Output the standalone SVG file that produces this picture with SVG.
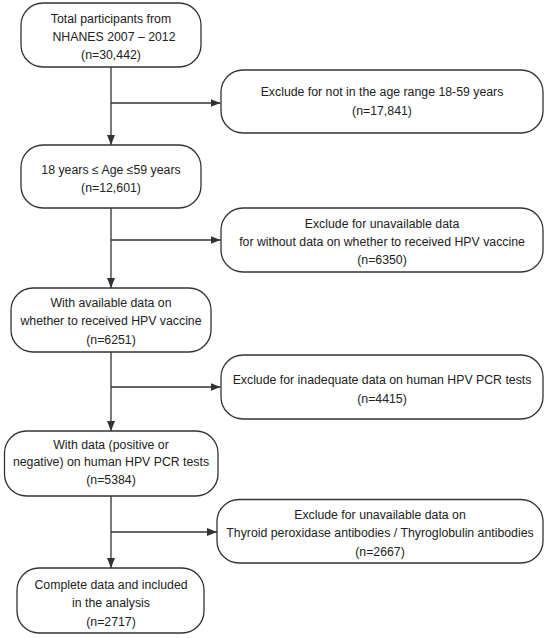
<svg xmlns="http://www.w3.org/2000/svg" width="550" height="638" viewBox="0 0 550 638">
<defs>
<style>
.box{fill:#fff;stroke:#333;stroke-width:1.3}
.t{font-family:"Liberation Sans",Arial,sans-serif;font-size:12.3px;fill:#222;text-anchor:middle}
.c{stroke:#333;stroke-width:1.3;fill:none}
</style>
<marker id="ah" markerWidth="10" markerHeight="8" refX="10" refY="4" orient="auto" markerUnits="userSpaceOnUse">
<path d="M0,0 L10,4 L0,8 Z" fill="#333"/>
</marker>
</defs>
<rect width="550" height="638" fill="#fff"/>
<g id="connectors">
<line class="c" x1="111" y1="67" x2="111" y2="145" marker-end="url(#ah)"/>
<line class="c" x1="111" y1="103" x2="220.5" y2="103" marker-end="url(#ah)"/>
<line class="c" x1="111" y1="208" x2="111" y2="288" marker-end="url(#ah)"/>
<line class="c" x1="111" y1="240" x2="220.5" y2="240" marker-end="url(#ah)"/>
<line class="c" x1="111" y1="352" x2="111" y2="431" marker-end="url(#ah)"/>
<line class="c" x1="111" y1="387" x2="220.5" y2="387" marker-end="url(#ah)"/>
<line class="c" x1="111" y1="496" x2="111" y2="568" marker-end="url(#ah)"/>
<line class="c" x1="111" y1="532" x2="217" y2="532" marker-end="url(#ah)"/>
</g>
<g id="n1">
<rect class="box" x="21" y="3" width="180" height="64" rx="22" ry="22"/>
<text class="t" x="111" y="23">Total participants from</text>
<text class="t" x="114" y="40.5">NHANES 2007 – 2012</text>
<text class="t" x="111" y="58.5">(n=30,442)</text>
</g>
<g id="e1">
<rect class="box" x="221" y="70" width="322" height="63" rx="22" ry="22"/>
<text class="t" x="382" y="95.5">Exclude for not in the age range 18-59 years</text>
<text class="t" x="382" y="114.5">(n=17,841)</text>
</g>
<g id="n2">
<rect class="box" x="21" y="145" width="180" height="63" rx="22" ry="22"/>
<text class="t" x="111" y="173.5">18 years ≤ Age ≤59 years</text>
<text class="t" x="111" y="191.5">(n=12,601)</text>
</g>
<g id="e2">
<rect class="box" x="221" y="208" width="322" height="64" rx="22" ry="22"/>
<text class="t" x="382" y="227.5">Exclude for unavailable data</text>
<text class="t" x="382" y="245.5">for without data on whether to received HPV vaccine</text>
<text class="t" x="382" y="264">(n=6350)</text>
</g>
<g id="n3">
<rect class="box" x="11" y="288" width="200" height="64" rx="22" ry="22"/>
<text class="t" x="111" y="306.5">With available data on</text>
<text class="t" x="111" y="325">whether to received HPV vaccine</text>
<text class="t" x="111" y="343.5">(n=6251)</text>
</g>
<g id="e3">
<rect class="box" x="221" y="355" width="322" height="64" rx="22" ry="22"/>
<text class="t" x="382" y="383.5">Exclude for inadequate data on human HPV PCR tests</text>
<text class="t" x="382" y="403">(n=4415)</text>
</g>
<g id="n4">
<rect class="box" x="4.5" y="431" width="213.5" height="65" rx="22" ry="22"/>
<text class="t" x="111" y="448.5">With data (positive or</text>
<text class="t" x="111" y="466">negative) on human HPV PCR tests</text>
<text class="t" x="111" y="484">(n=5384)</text>
</g>
<g id="e4">
<rect class="box" x="217" y="499.5" width="326" height="63.5" rx="22" ry="22"/>
<text class="t" x="380" y="518.5">Exclude for unavailable data on</text>
<text class="t" x="380" y="537">Thyroid peroxidase antibodies / Thyroglobulin antibodies</text>
<text class="t" x="380" y="555.5">(n=2667)</text>
</g>
<g id="n5">
<rect class="box" x="17" y="568" width="187" height="65" rx="22" ry="22"/>
<text class="t" x="111" y="588.5">Complete data and included</text>
<text class="t" x="111" y="607">in the analysis</text>
<text class="t" x="111" y="625.5">(n=2717)</text>
</g>
</svg>
